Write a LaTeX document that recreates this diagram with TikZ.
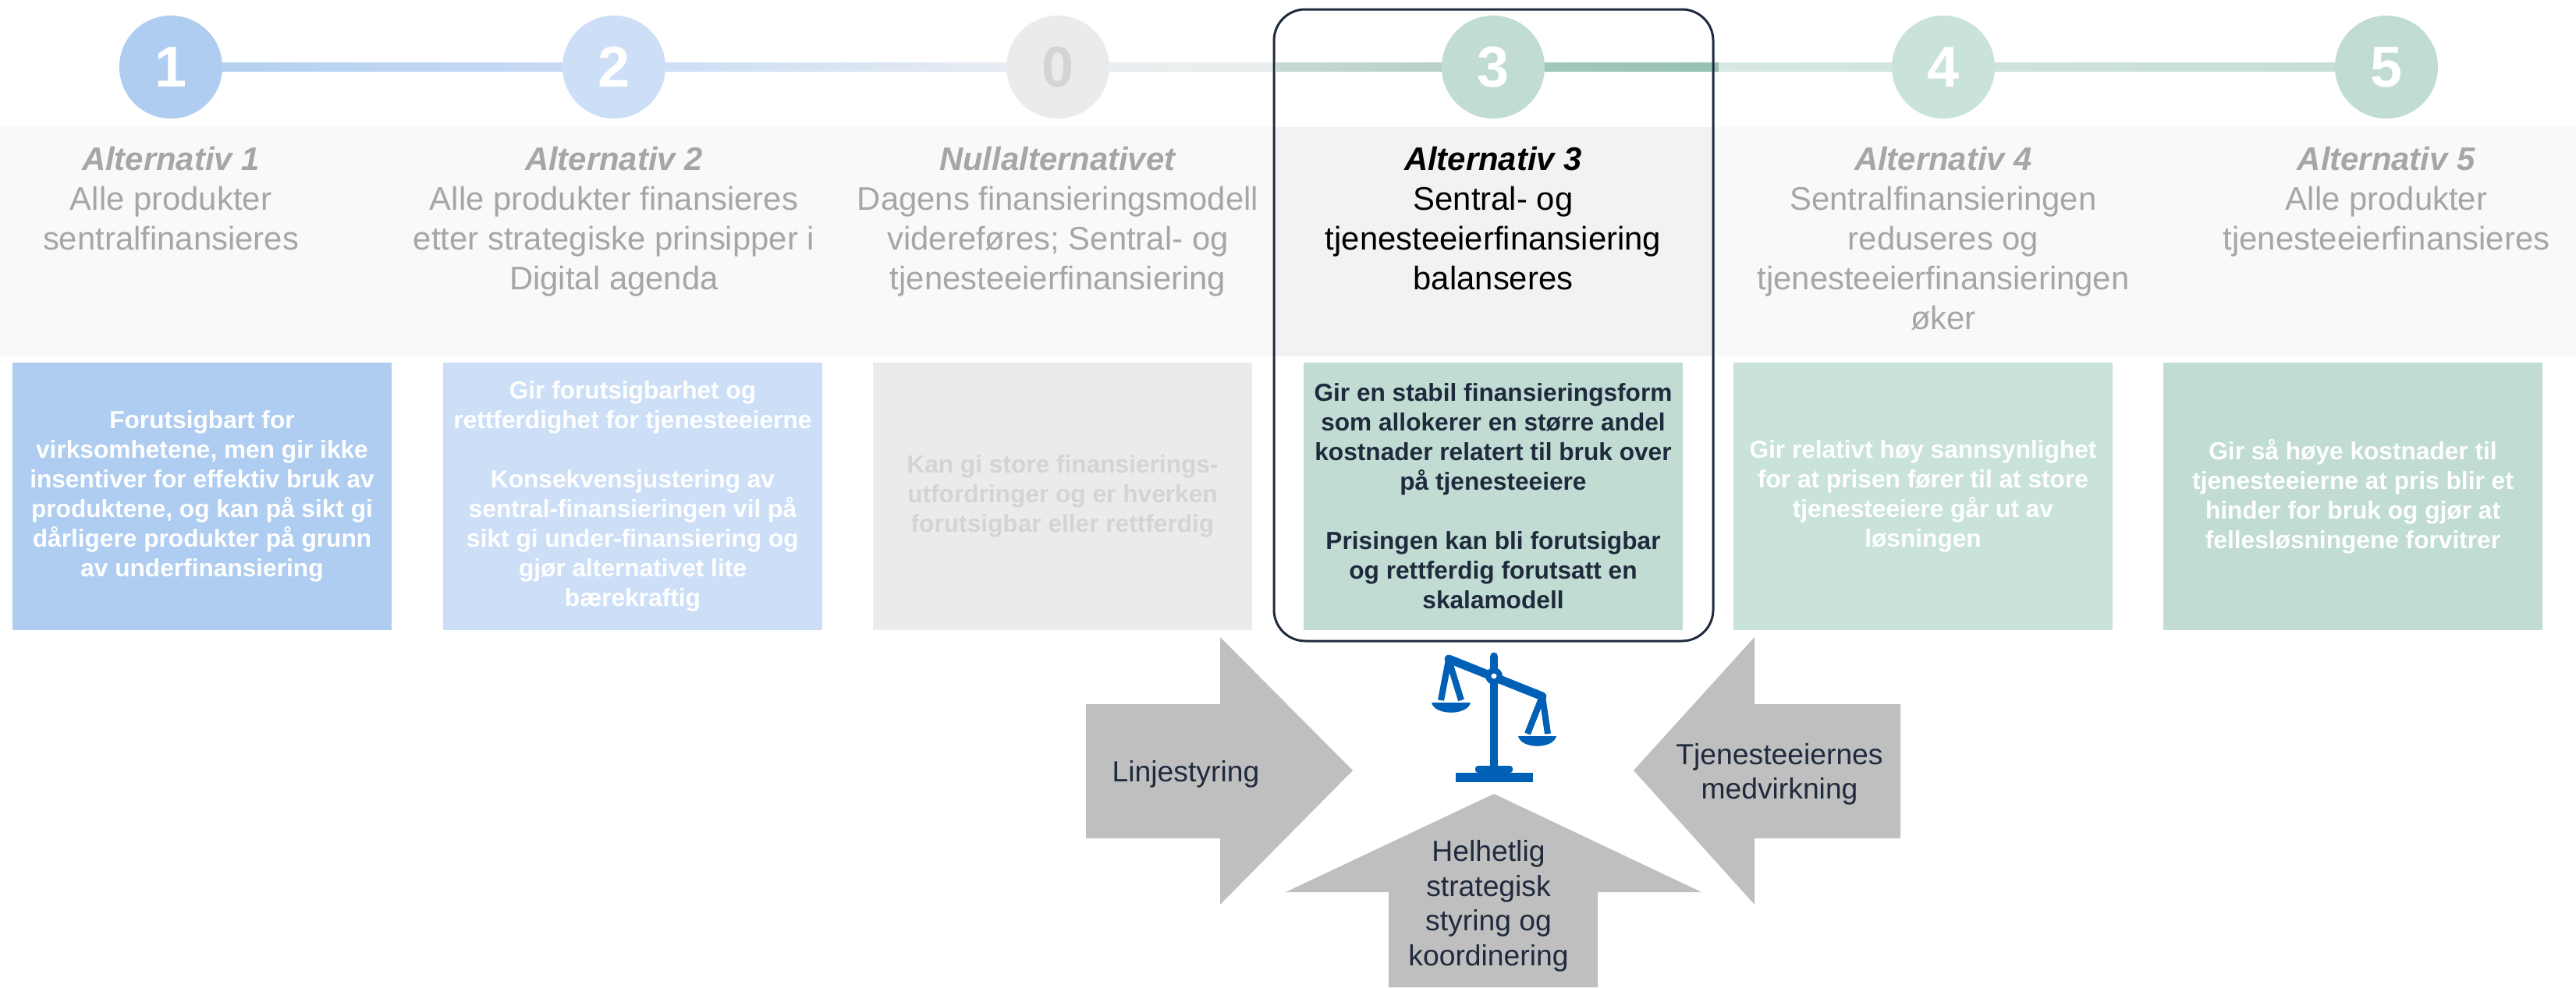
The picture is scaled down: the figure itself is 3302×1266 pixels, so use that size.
\documentclass[tikz,border=0pt]{standalone}
\usepackage{fontspec}
\setmainfont{Liberation Sans}
\usetikzlibrary{positioning}

\definecolor{alteen}{RGB}{174,205,240}
\definecolor{alto}{RGB}{204,223,247}
\definecolor{altnull}{RGB}{235,235,235}
\definecolor{alttre}{RGB}{192,220,211}
\definecolor{altfire}{RGB}{201,227,217}
\definecolor{altfem}{RGB}{192,220,211}
\definecolor{nullgray}{RGB}{212,212,212}
\definecolor{headgray}{RGB}{166,166,166}
\definecolor{navy}{RGB}{31,42,61}
\definecolor{arrowgray}{RGB}{191,191,191}
\definecolor{scaleblue}{RGB}{0,96,182}
\definecolor{bandlight}{RGB}{249,249,249}
\definecolor{banddark}{RGB}{242,242,242}
\definecolor{tlA}{RGB}{176,206,240}
\definecolor{tlB}{RGB}{202,220,245}
\definecolor{tlC}{RGB}{234,238,241}
\definecolor{tlD}{RGB}{233,239,237}
\definecolor{tlE}{RGB}{200,217,211}
\definecolor{tlF}{RGB}{176,206,195}
\definecolor{tlG}{RGB}{165,201,187}
\definecolor{tlH}{RGB}{150,193,177}
\definecolor{tlI}{RGB}{216,232,226}
\definecolor{tlJ}{RGB}{208,228,220}
\definecolor{tlK}{RGB}{196,222,212}

\begin{document}
\begin{tikzpicture}[x=0.01cm,y=-0.01cm]

  \tikzstyle{num}=[circle,minimum size=1.32cm,inner sep=0pt,text=white,
                   font=\fontsize{21}{21}\selectfont\bfseries]
  \tikzstyle{head}=[anchor=north,align=center,inner sep=0pt,text=headgray,
                    font=\fontsize{11.9}{14.5}\selectfont]
  \tikzstyle{card}=[minimum width=4.86cm,minimum height=3.43cm,inner sep=0pt,
                    align=center,text=white,font=\fontsize{9}{10.8}\selectfont\bfseries]
  \tikzstyle{push}=[fill=arrowgray]
  \tikzstyle{pushtext}=[align=center,inner sep=0pt,text=navy,
                        font=\fontsize{10.6}{12.7}\selectfont]

  \useasboundingbox (0,0) rectangle (3302,1266);

  % header band
  \fill[bandlight] (0,163) rectangle (3302,457);
  \fill[banddark] (1633,163) rectangle (2196,457);

  % timeline
  \foreach \xa/\xb/\ca/\cb in {219/787/tlA/tlB, 787/1356/tlB/tlC,
      1356/1636/tlC/tlD, 1636/1914/tlE/tlF, 1914/2203/tlG/tlH,
      2203/2491/tlI/tlJ, 2491/3059/tlJ/tlK}
    \shade[left color=\ca,right color=\cb] (\xa,80.5) rectangle (\xb,91.5);

  \node[num,fill=alteen]  (c1) at (219,86)  {1};
  \node[num,fill=alto]    (c2) at (787,86)  {2};
  \node[num,fill=altnull,text=nullgray] (c0) at (1356,86) {0};
  \node[num,fill=alttre]  (c3) at (1914,86) {3};
  \node[num,fill=altfire] (c4) at (2491,86) {4};
  \node[num,fill=altfem]  (c5) at (3059,86) {5};

  % alternatives
  \node[head] (h1) [below=0.35cm of c1]
    {\textbf{\textit{Alternativ 1}}\\Alle produkter\\sentralfinansieres};
  \node[head] (h2) [below=0.35cm of c2]
    {\textbf{\textit{Alternativ 2}}\\Alle produkter finansieres\\etter strategiske prinsipper i\\Digital agenda};
  \node[head] (h0) [below=0.35cm of c0]
    {\textbf{\textit{Nullalternativet}}\\Dagens finansieringsmodell\\videreføres; Sentral- og\\tjenesteeierfinansiering};
  \node[head,text=black] (h3) [below=0.35cm of c3]
    {\textbf{\textit{Alternativ 3}}\\Sentral- og\\tjenesteeierfinansiering\\balanseres};
  \node[head] (h4) [below=0.35cm of c4]
    {\textbf{\textit{Alternativ 4}}\\Sentralfinansieringen\\reduseres og\\tjenesteeierfinansieringen\\øker};
  \node[head] (h5) [below=0.35cm of c5]
    {\textbf{\textit{Alternativ 5}}\\Alle produkter\\tjenesteeierfinansieres};

  % consequences
  \node[card,fill=alteen] (b1) at (259,636.5)
    {Forutsigbart for\\virksomhetene, men gir ikke\\insentiver for effektiv bruk av\\produktene, og kan på sikt gi\\dårligere produkter på grunn\\av underfinansiering};
  \node[card,fill=alto] (b2) at (811,636.5)
    {Gir forutsigbarhet og\\rettferdighet for tjenesteeierne\\[10.8pt]Konsekvensjustering av\\sentral-finansieringen vil på\\sikt gi under-finansiering og\\gjør alternativet lite\\bærekraftig};
  \node[card,fill=altnull,text=nullgray] (b0) at (1362,636.5)
    {Kan gi store finansierings-\\utfordringer og er hverken\\forutsigbar eller rettferdig};
  \node[card,fill=alttre,text=navy] (b3) at (1914,636.5)
    {Gir en stabil finansieringsform\\som allokerer en større andel\\kostnader relatert til bruk over\\på tjenesteeiere\\[10.8pt]Prisingen kan bli forutsigbar\\og rettferdig forutsatt en\\skalamodell};
  \node[card,fill=altfire] (b4) at (2465,636.5)
    {Gir relativt høy sannsynlighet\\for at prisen fører til at store\\tjenesteeiere går ut av\\løsningen};
  \node[card,fill=altfem] (b5) at (3016,636.5)
    {Gir så høye kostnader til\\tjenesteeierne at pris blir et\\hinder for bruk og gjør at\\fellesløsningene forvitrer};

  % chosen alternative
  \draw[navy,line width=0.85pt,rounded corners=0.4cm] (1633,12) rectangle (2196,822);

  % forces
  \fill[push] (1392,903) -- (1564,903) -- (1564,817) -- (1734,988)
    -- (1564,1160) -- (1564,1075) -- (1392,1075) -- cycle;
  \fill[push] (2436,903) -- (2249,903) -- (2249,817) -- (2094,988)
    -- (2249,1160) -- (2249,1075) -- (2436,1075) -- cycle;
  \fill[push] (1780,1266) -- (1780,1144) -- (1648,1144) -- (1915,1018)
    -- (2181,1144) -- (2048,1144) -- (2048,1266) -- cycle;

  \node[pushtext] (linje) at (1520,993) {Linjestyring};
  \node[pushtext] (eier) at (2281,993) {Tjenesteeiernes\\medvirkning};
  \node[pushtext] (helhet) at (1908,1162) {Helhetlig\\strategisk\\styring og\\koordinering};

  % scale
  \begin{scope}[scaleblue]
    \draw[line width=3.1pt,line cap=round] (1915,842) -- (1915,984);
    \draw[line width=3.1pt,line cap=round] (1857,845) -- (1977,893);
    \fill (1915,867) circle (0.11cm);
    \fill[white] (1915,867) circle (0.035cm);
    \draw[line width=2.3pt] (1857,846) -- (1847,898) (1857,846) -- (1873,898);
    \draw[line width=2.3pt] (1977,893) -- (1958,941) (1977,893) -- (1984,941);
    \fill (1835,901) .. controls (1839,918) and (1881,918) .. (1885,901) -- cycle;
    \fill (1946,944) .. controls (1950,961) and (1991,961) .. (1995,944) -- cycle;
    \fill[rounded corners=1pt] (1891,991) rectangle (1939,982);
    \fill (1866,990.7) rectangle (1965,1002.7);
  \end{scope}
\end{tikzpicture}
\end{document}
